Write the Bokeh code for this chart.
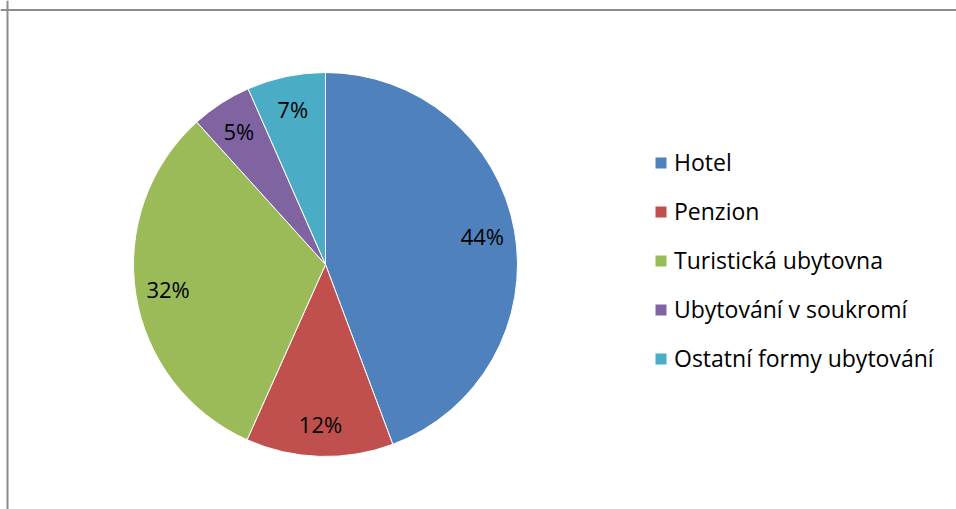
import math
from bokeh.plotting import figure
from bokeh.models import ColumnDataSource, Range1d, Span, Legend, LegendItem
from bokeh.core.properties import value
from bokeh.embed import file_html
from bokeh.resources import INLINE

categories = ["Hotel", "Penzion", "Turistická ubytovna", "Ubytování v soukromí", "Ostatní formy ubytování"]
shares = [44.3, 12.4, 31.6, 5.1, 6.6]
colors = ["#4F81BD", "#C0504D", "#9BBB59", "#8064A2", "#4BACC6"]

FONT = "Open Sans"
W, H = 956, 509
CX, CY = 325, 264  # pie centre in screen px from top-left
R = 192
LABEL_R = 0.83

total = sum(shares)
starts, ends, lx, ly, labels = [], [], [], [], []
cum = 0.0
for s in shares:
    a0 = math.pi / 2 - 2 * math.pi * (cum + s) / total
    a1 = math.pi / 2 - 2 * math.pi * cum / total
    starts.append(a0)
    ends.append(a1)
    mid = (a0 + a1) / 2
    lx.append(LABEL_R * R * math.cos(mid))
    ly.append(LABEL_R * R * math.sin(mid))
    labels.append(f"{round(100 * s / total)}%")
    cum += s

src = ColumnDataSource(dict(cat=categories, share=shares, color=colors,
                            start=starts, end=ends, lx=lx, ly=ly, label=labels))

p = figure(width=W, height=H, output_backend="svg", toolbar_location=None,
           x_range=Range1d(-CX, W - CX), y_range=Range1d(-(H - CY), CY),
           min_border=0, outline_line_color=None)
p.axis.visible = False
p.grid.visible = False
p.background_fill_color = "white"
p.border_fill_color = "white"

r = p.wedge(x=0, y=0, radius=R, start_angle="start", end_angle="end",
            fill_color="color", line_color="white", line_width=1, source=src)

p.text(x="lx", y="ly", text="label", source=src, text_align="center",
       text_baseline="middle", text_font=value(FONT), text_font_size="22px",
       text_color="black")

p.add_layout(Span(location=-CX + 7, dimension="height", line_color="#8c8c8c", line_width=2))
p.add_layout(Span(location=CY - 9.5, dimension="width", line_color="#8c8c8c", line_width=2))

items = [LegendItem(label=c, renderers=[r], index=i) for i, c in enumerate(categories)]
legend = Legend(items=items, location=(653, 135), orientation="vertical",
                glyph_width=15, glyph_height=15, label_text_font=FONT,
                label_text_font_size="23px", label_text_color="black",
                label_standoff=6, spacing=17, padding=0, margin=0,
                border_line_color=None, background_fill_alpha=0)
p.add_layout(legend, "center")

open("out.html", "w").write(file_html(p, INLINE))
